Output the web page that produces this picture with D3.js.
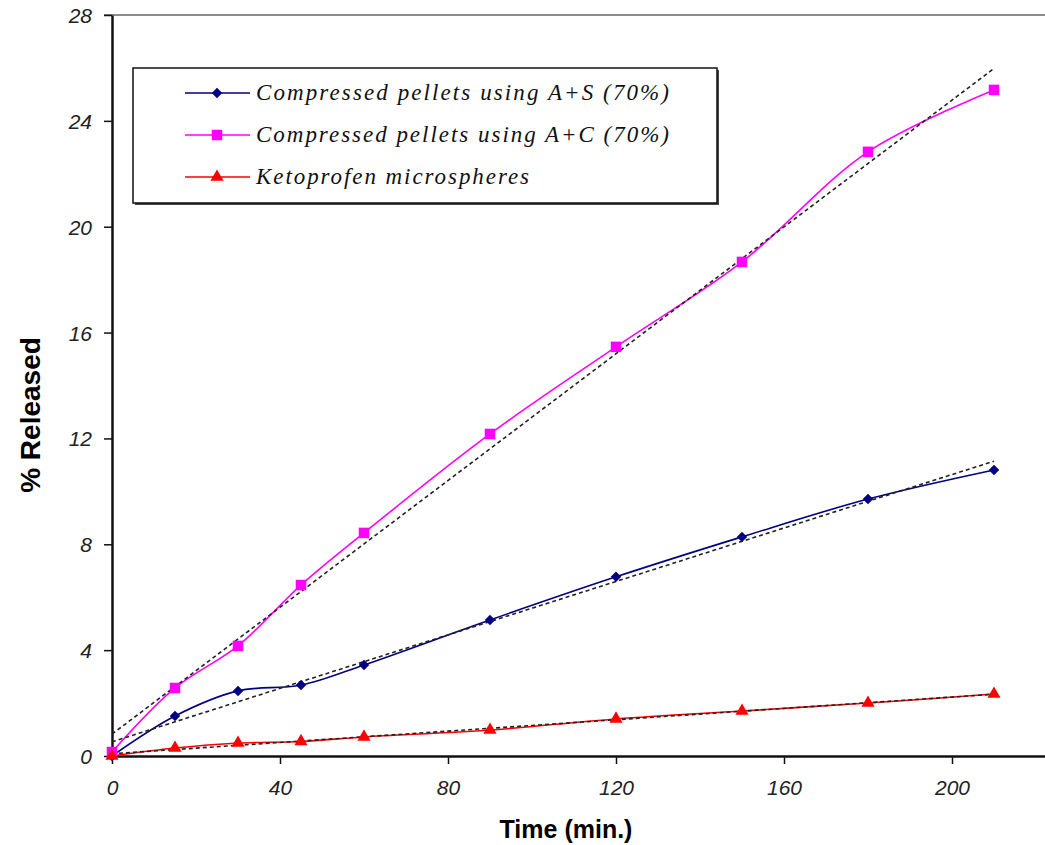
<!DOCTYPE html>
<html>
<head>
<meta charset="utf-8">
<script src="https://cdn.jsdelivr.net/npm/d3@7"></script>
<style>
  body { margin: 0; background: #fff; }
  svg { display: block; }
</style>
</head>
<body>
<script>
// chart data
const times = [0, 15, 30, 45, 60, 90, 120, 150, 180, 210];
const pelletsAS = [0, 1.51, 2.46, 2.68, 3.44, 5.14, 6.77, 8.28, 9.71, 10.81];
const pelletsAC = [0.15, 2.57, 4.16, 6.46, 8.43, 12.17, 15.46, 18.67, 22.83, 25.17];
const microspheres = [0, 0.3, 0.49, 0.55, 0.72, 0.98, 1.4, 1.7, 2.0, 2.34];
const seriesNames = [
  'Compressed pellets using A+S (70%)',
  'Compressed pellets using A+C (70%)',
  'Ketoprofen microspheres'
];
const xTicks = [0, 40, 80, 120, 160, 200];
const yTicks = [0, 4, 8, 12, 16, 20, 24, 28];

const width = 1045, height = 845;

const svg = d3.select('body').append('svg')
  .attr('width', width)
  .attr('height', height);

const xScale = d3.scaleLinear().domain([0, 240]).range([112, 1120]);
const yScale = d3.scaleLinear().domain([0, 28]).range([756, 15]);

const series = [
  { name: seriesNames[0], values: pelletsAS, color: '#000080', symbol: d3.symbolDiamond2, size: 70 },
  { name: seriesNames[1], values: pelletsAC, color: '#ff00ff', symbol: d3.symbolSquare, size: 110 },
  { name: seriesNames[2], values: microspheres, color: '#ff0000', symbol: d3.symbolTriangle, size: 75 }
];

// plot border top
svg.append('line')
  .attr('x1', 104).attr('x2', width)
  .attr('y1', yScale(28)).attr('y2', yScale(28))
  .attr('stroke', '#666').attr('stroke-width', 1.5);

// axes
const xAxis = svg.append('g')
  .attr('transform', `translate(0,${yScale(0)})`)
  .call(d3.axisBottom(xScale).tickValues(xTicks).tickSize(8).tickSizeOuter(0));
const yAxis = svg.append('g')
  .attr('transform', `translate(${xScale(0)},0)`)
  .call(d3.axisLeft(yScale).tickValues(yTicks).tickSize(8).tickSizeOuter(0));

[xAxis, yAxis].forEach(ax => {
  ax.select('.domain').attr('stroke', '#111').attr('stroke-width', 2.5);
  ax.selectAll('.tick line').attr('stroke', '#111').attr('stroke-width', 1.5);
  ax.selectAll('.tick text')
    .style('font-family', 'Liberation Sans, Arial, sans-serif')
    .style('font-style', 'italic')
    .style('font-size', '21px')
    .attr('fill', '#222');
});
xAxis.selectAll('.tick text').attr('dy', '0').attr('y', 39);
yAxis.selectAll('.tick text').attr('x', -20).attr('dy', '0.36em');

// linear trendlines (least squares, like the spreadsheet trendline)
function fit(xs, ys) {
  const mx = d3.mean(xs), my = d3.mean(ys);
  const sxy = d3.sum(xs, (x, i) => (x - mx) * (ys[i] - my));
  const sxx = d3.sum(xs, x => (x - mx) ** 2);
  const b = sxy / sxx;
  return { a: my - b * mx, b: b };
}

const lineGen = d3.line()
  .x((d, i) => xScale(times[i]))
  .y(d => yScale(d))
  .curve(d3.curveCatmullRom.alpha(0.5));

series.forEach(s => {
  svg.append('path')
    .attr('d', lineGen(s.values))
    .attr('fill', 'none')
    .attr('stroke', s.color)
    .attr('stroke-width', 1.6);
});

series.forEach(s => {
  const f = fit(times, s.values);
  const x0 = d3.min(times), x1 = d3.max(times);
  svg.append('line')
    .attr('x1', xScale(x0)).attr('y1', yScale(f.a + f.b * x0))
    .attr('x2', xScale(x1)).attr('y2', yScale(f.a + f.b * x1))
    .attr('stroke', '#222')
    .attr('stroke-width', 1.6)
    .attr('stroke-dasharray', '4,3');
});

series.forEach(s => {
  svg.selectAll(null)
    .data(s.values)
    .enter().append('path')
    .attr('d', d3.symbol().type(s.symbol).size(s.size))
    .attr('transform', (d, i) => `translate(${xScale(times[i])},${yScale(d)})`)
    .attr('fill', s.color);
});

// axis titles
svg.append('text')
  .attr('transform', 'translate(40,415) rotate(-90)')
  .attr('text-anchor', 'middle')
  .style('font-family', 'Liberation Sans, Arial, sans-serif')
  .style('font-weight', 'bold')
  .style('font-size', '28px')
  .text('% Released');

svg.append('text')
  .attr('x', 566).attr('y', 838)
  .attr('text-anchor', 'middle')
  .style('font-family', 'Liberation Sans, Arial, sans-serif')
  .style('font-weight', 'bold')
  .style('font-size', '25px')
  .text('Time (min.)');

// legend
const legend = svg.append('g');
legend.append('rect')
  .attr('x', 135).attr('y', 70).attr('width', 584).attr('height', 135)
  .attr('fill', '#444');
legend.append('rect')
  .attr('x', 133).attr('y', 68).attr('width', 584).attr('height', 135)
  .attr('fill', '#fff').attr('stroke', '#111').attr('stroke-width', 1.5);

const rowY = [93, 135, 177];
const textLen = [413, 413, 273];
series.forEach((s, i) => {
  legend.append('line')
    .attr('x1', 185).attr('x2', 250)
    .attr('y1', rowY[i]).attr('y2', rowY[i])
    .attr('stroke', s.color).attr('stroke-width', 1.6);
  legend.append('path')
    .attr('d', d3.symbol().type(s.symbol).size(s.size))
    .attr('transform', `translate(217,${rowY[i]})`)
    .attr('fill', s.color);
  legend.append('text')
    .attr('x', 256).attr('y', rowY[i] + 7)
    .attr('textLength', textLen[i])
    .attr('lengthAdjust', 'spacing')
    .style('font-family', 'Liberation Serif, Times New Roman, serif')
    .style('font-style', 'italic')
    .style('font-size', '23px')
    .attr('fill', '#111')
    .text(s.name);
});
</script>
</body>
</html>
